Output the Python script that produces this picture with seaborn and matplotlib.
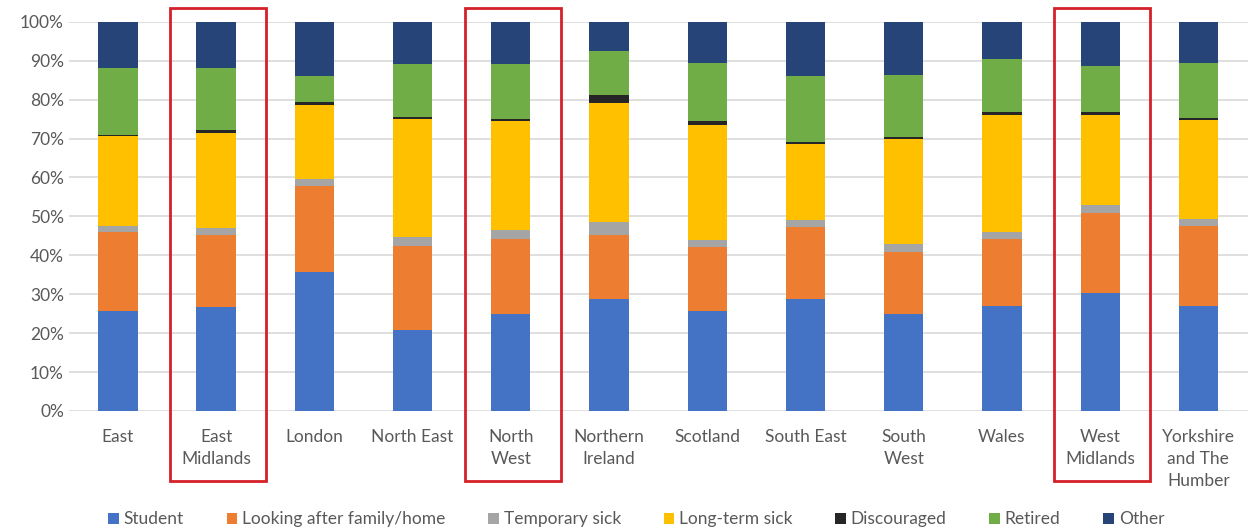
import matplotlib
matplotlib.use("Agg")
import matplotlib.pyplot as plt
import matplotlib.transforms as mtransforms
from matplotlib.patches import Rectangle
import pandas as pd
import seaborn as sns

regions = ["East", "East\nMidlands", "London", "North East", "North\nWest",
           "Northern\nIreland", "Scotland", "South East", "South\nWest",
           "Wales", "West\nMidlands", "Yorkshire\nand The\nHumber"]

student = [25.8, 26.6, 35.6, 20.9, 24.8, 28.7, 25.6, 28.7, 24.8, 26.9, 30.2, 27.1]
family_home = [20.3, 18.5, 22.1, 21.6, 19.3, 16.4, 16.5, 18.5, 16.0, 17.4, 20.6, 20.4]
temp_sick = [1.5, 1.8, 1.8, 2.1, 2.5, 3.4, 1.9, 1.8, 2.0, 1.6, 2.0, 1.9]
long_sick = [23.1, 24.5, 19.2, 30.3, 27.8, 30.7, 29.6, 19.7, 27.2, 30.2, 23.3, 25.4]
discouraged = [0.3, 0.9, 0.6, 0.7, 0.6, 1.9, 0.8, 0.5, 0.5, 0.7, 0.6, 0.6]
retired = [17.0, 15.9, 6.8, 13.6, 14.2, 11.5, 15.1, 16.9, 15.8, 13.6, 11.9, 14.1]
other = [12.0, 11.8, 13.9, 10.8, 10.8, 7.4, 10.5, 13.9, 13.7, 9.6, 11.4, 10.5]

series = {
    "Student": student,
    "Looking after family/home": family_home,
    "Temporary sick": temp_sick,
    "Long-term sick": long_sick,
    "Discouraged": discouraged,
    "Retired": retired,
    "Other": other,
}
colours = ["#4472C4", "#ED7D31", "#A5A5A5", "#FFC000", "#262626", "#70AD47", "#264478"]

highlighted = ["East\nMidlands", "North\nWest", "West\nMidlands"]

sns.set_theme(style="white")
plt.rcParams["font.family"] = ["Lato", "DejaVu Sans"]

fig = plt.figure(figsize=(12.5, 5.31), dpi=100)
ax = fig.add_axes([0.055, 0.226, 0.943, 0.733])

df = pd.DataFrame(series)
df["Region"] = regions

# stacked bars: each series sits on top of the running total
bottom = pd.Series([0.0] * len(regions))
for name, col in zip(series.keys(), colours):
    sns.barplot(data=df, x="Region", y=name, color=col, bottom=bottom.values,
                width=0.4, ax=ax, saturation=1, label=name, edgecolor="none")
    bottom = bottom + df[name]

if ax.get_legend() is not None:
    ax.get_legend().remove()

ax.set_ylim(0, 100)
ax.set_xlim(-0.5, len(regions) - 0.5)
ax.set_yticks(range(0, 101, 10))
ax.set_yticklabels([f"{v}%" for v in range(0, 101, 10)])
ax.yaxis.grid(True, color="#d9d9d9", linewidth=1.2)
ax.set_axisbelow(True)
ax.set_xlabel("")
ax.set_ylabel("")
sns.despine(ax=ax, left=True, bottom=True)
ax.tick_params(axis="both", length=0, labelsize=12.5, labelcolor="#595959")
ax.tick_params(axis="x", pad=13)
for lbl in ax.get_xticklabels():
    lbl.set_linespacing(1.45)
    lbl.set_verticalalignment("top")

# red boxes around highlighted regions
trans = mtransforms.blended_transform_factory(ax.transData, ax.transAxes)
for reg in highlighted:
    i = regions.index(reg)
    ax.add_patch(Rectangle((i - 0.47, -0.18), 0.98, 1.216, transform=trans,
                           fill=False, edgecolor="#D42027", linewidth=2,
                           clip_on=False, zorder=5))

h, l = ax.get_legend_handles_labels()
leg = fig.legend(h, l, loc="center", bbox_to_anchor=(0.509, 0.022), ncol=7,
                 frameon=False, fontsize=12.5, handlelength=0.6, handleheight=0.6,
                 handletextpad=0.3, columnspacing=2.45)
for t in leg.get_texts():
    t.set_color("#595959")

fig.savefig("out.png", dpi=100)
